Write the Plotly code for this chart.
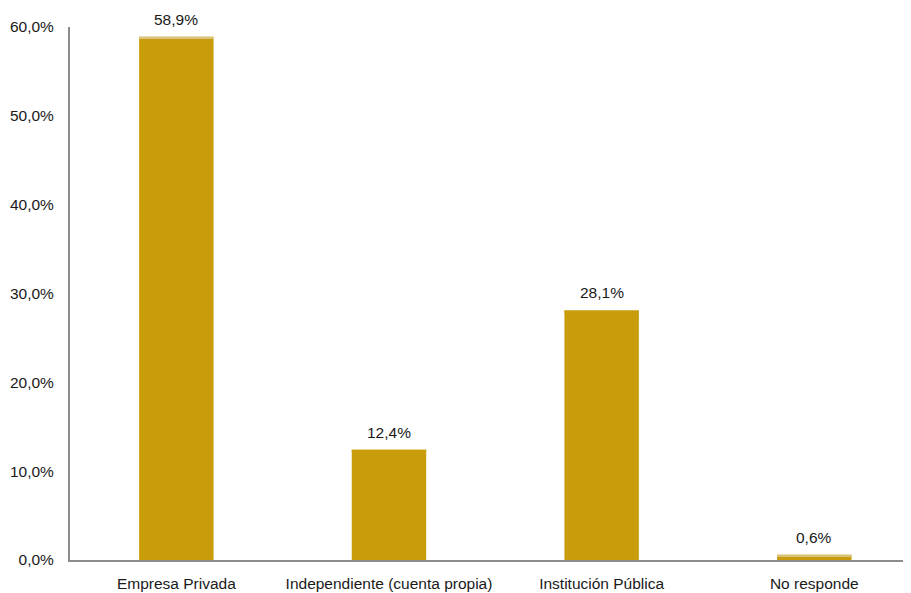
import plotly.graph_objects as go

categories = ["Empresa Privada", "Independiente (cuenta propia)", "Institución Pública", "No responde"]
values = [58.9, 12.4, 28.1, 0.6]
y_ticks = [0, 10, 20, 30, 40, 50, 60]

bar_color = "#C99C0C"
top_color = "#DAC37E"
# the light top edge is visible only on some bars in the reference
top_colors = [top_color, bar_color, bar_color, top_color]
font = dict(family="Liberation Sans, Arial, sans-serif", size=15.5, color="#1a1a1a")

def pct(v):
    return f"{v:.1f}%".replace(".", ",")

fig = go.Figure()
fig.add_trace(go.Bar(
    x=categories,
    y=values,
    width=0.35,
    marker=dict(color=bar_color, line=dict(width=0)),
    cliponaxis=False,
    hoverinfo="x+y",
))
band = 0.22
fig.add_trace(go.Bar(
    x=categories,
    y=[band] * len(values),
    base=[v - band for v in values],
    width=0.35,
    marker=dict(color=top_colors, line=dict(width=0)),
    hoverinfo="skip",
))

for c, v in zip(categories, values):
    fig.add_annotation(x=c, y=v, text=pct(v), showarrow=False,
                       yanchor="bottom", yshift=7, font=font)

fig.update_layout(
    width=903,
    height=585,
    margin=dict(l=62, r=1, t=19, b=33, autoexpand=False),
    paper_bgcolor="white",
    plot_bgcolor="white",
    font=font,
    showlegend=False,
    barmode="overlay",
)
fig.update_xaxes(
    range=[-0.5, 3.45],
    showline=True, linecolor="#8c8c8c", linewidth=2,
    showgrid=False, ticks="", tickfont=font,
    ticklabelstandoff=8, automargin=False,
)
fig.update_yaxes(
    range=[0, 60], tickvals=y_ticks, ticktext=[pct(t) for t in y_ticks],
    showline=True, linecolor="#8c8c8c", linewidth=2,
    showgrid=False, zeroline=False, ticks="", tickfont=font,
    ticklabelstandoff=11, automargin=False,
)

fig.write_html("out.html")
